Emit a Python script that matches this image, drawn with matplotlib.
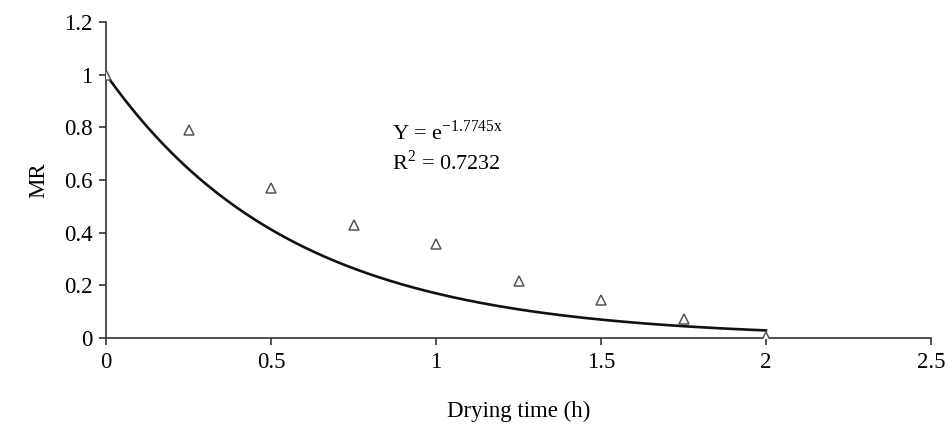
import numpy as np
import matplotlib
matplotlib.use("Agg")
import matplotlib.pyplot as plt

plt.rcParams['font.family'] = ['Liberation Serif', 'DejaVu Serif']

# observed moisture ratio
time_h = [0, 0.25, 0.5, 0.75, 1.0, 1.25, 1.5, 1.75, 2.0]
mr_obs = [1.0, 0.79, 0.57, 0.43, 0.357, 0.217, 0.145, 0.073, 0.005]

# fitted model Y = exp(k x)
k = -1.7745
r2 = 0.7232

x_fit = np.linspace(0, 2, 200)
y_fit = np.exp(k * x_fit)

fig = plt.figure(figsize=(9.48, 4.32), dpi=100)
ax = fig.add_axes([0.112, 0.2176, 0.870, 0.7315])

ax.plot(x_fit, y_fit, color='#111111', lw=1.9, zorder=2)
ax.plot(time_h, mr_obs, linestyle='none', marker='^', markersize=7,
        markerfacecolor='white', markeredgecolor='#555555', markeredgewidth=1.1, zorder=3)

ax.set_xlim(0, 2.5)
ax.set_ylim(0, 1.2)
ax.set_xticks([0, 0.5, 1, 1.5, 2, 2.5])
ax.set_xticklabels(['0', '0.5', '1', '1.5', '2', '2.5'])
ax.set_yticks([0, 0.2, 0.4, 0.6, 0.8, 1.0, 1.2])
ax.set_yticklabels(['0', '0.2', '0.4', '0.6', '0.8', '1', '1.2'])

for s in ['top', 'right']:
    ax.spines[s].set_visible(False)
for s in ['left', 'bottom']:
    ax.spines[s].set_color('#333333')
    ax.spines[s].set_linewidth(1.2)
ax.tick_params(direction='out', length=5, width=1.2, color='#333333',
               labelsize=16.5, pad=5)

ax.set_xlabel('Drying time (h)', fontsize=16.5, labelpad=20)
ax.set_ylabel('MR', fontsize=16.5, labelpad=10)

ax.text(0.867, 0.78, r'Y = e$^{\mathregular{-1.7745x}}$', fontsize=16, va='center', ha='left')
ax.text(0.867, 0.665, 'R$^{\\mathregular{2}}$ = %.4f' % r2, fontsize=16, va='center', ha='left')

fig.savefig('out.png', dpi=100)
